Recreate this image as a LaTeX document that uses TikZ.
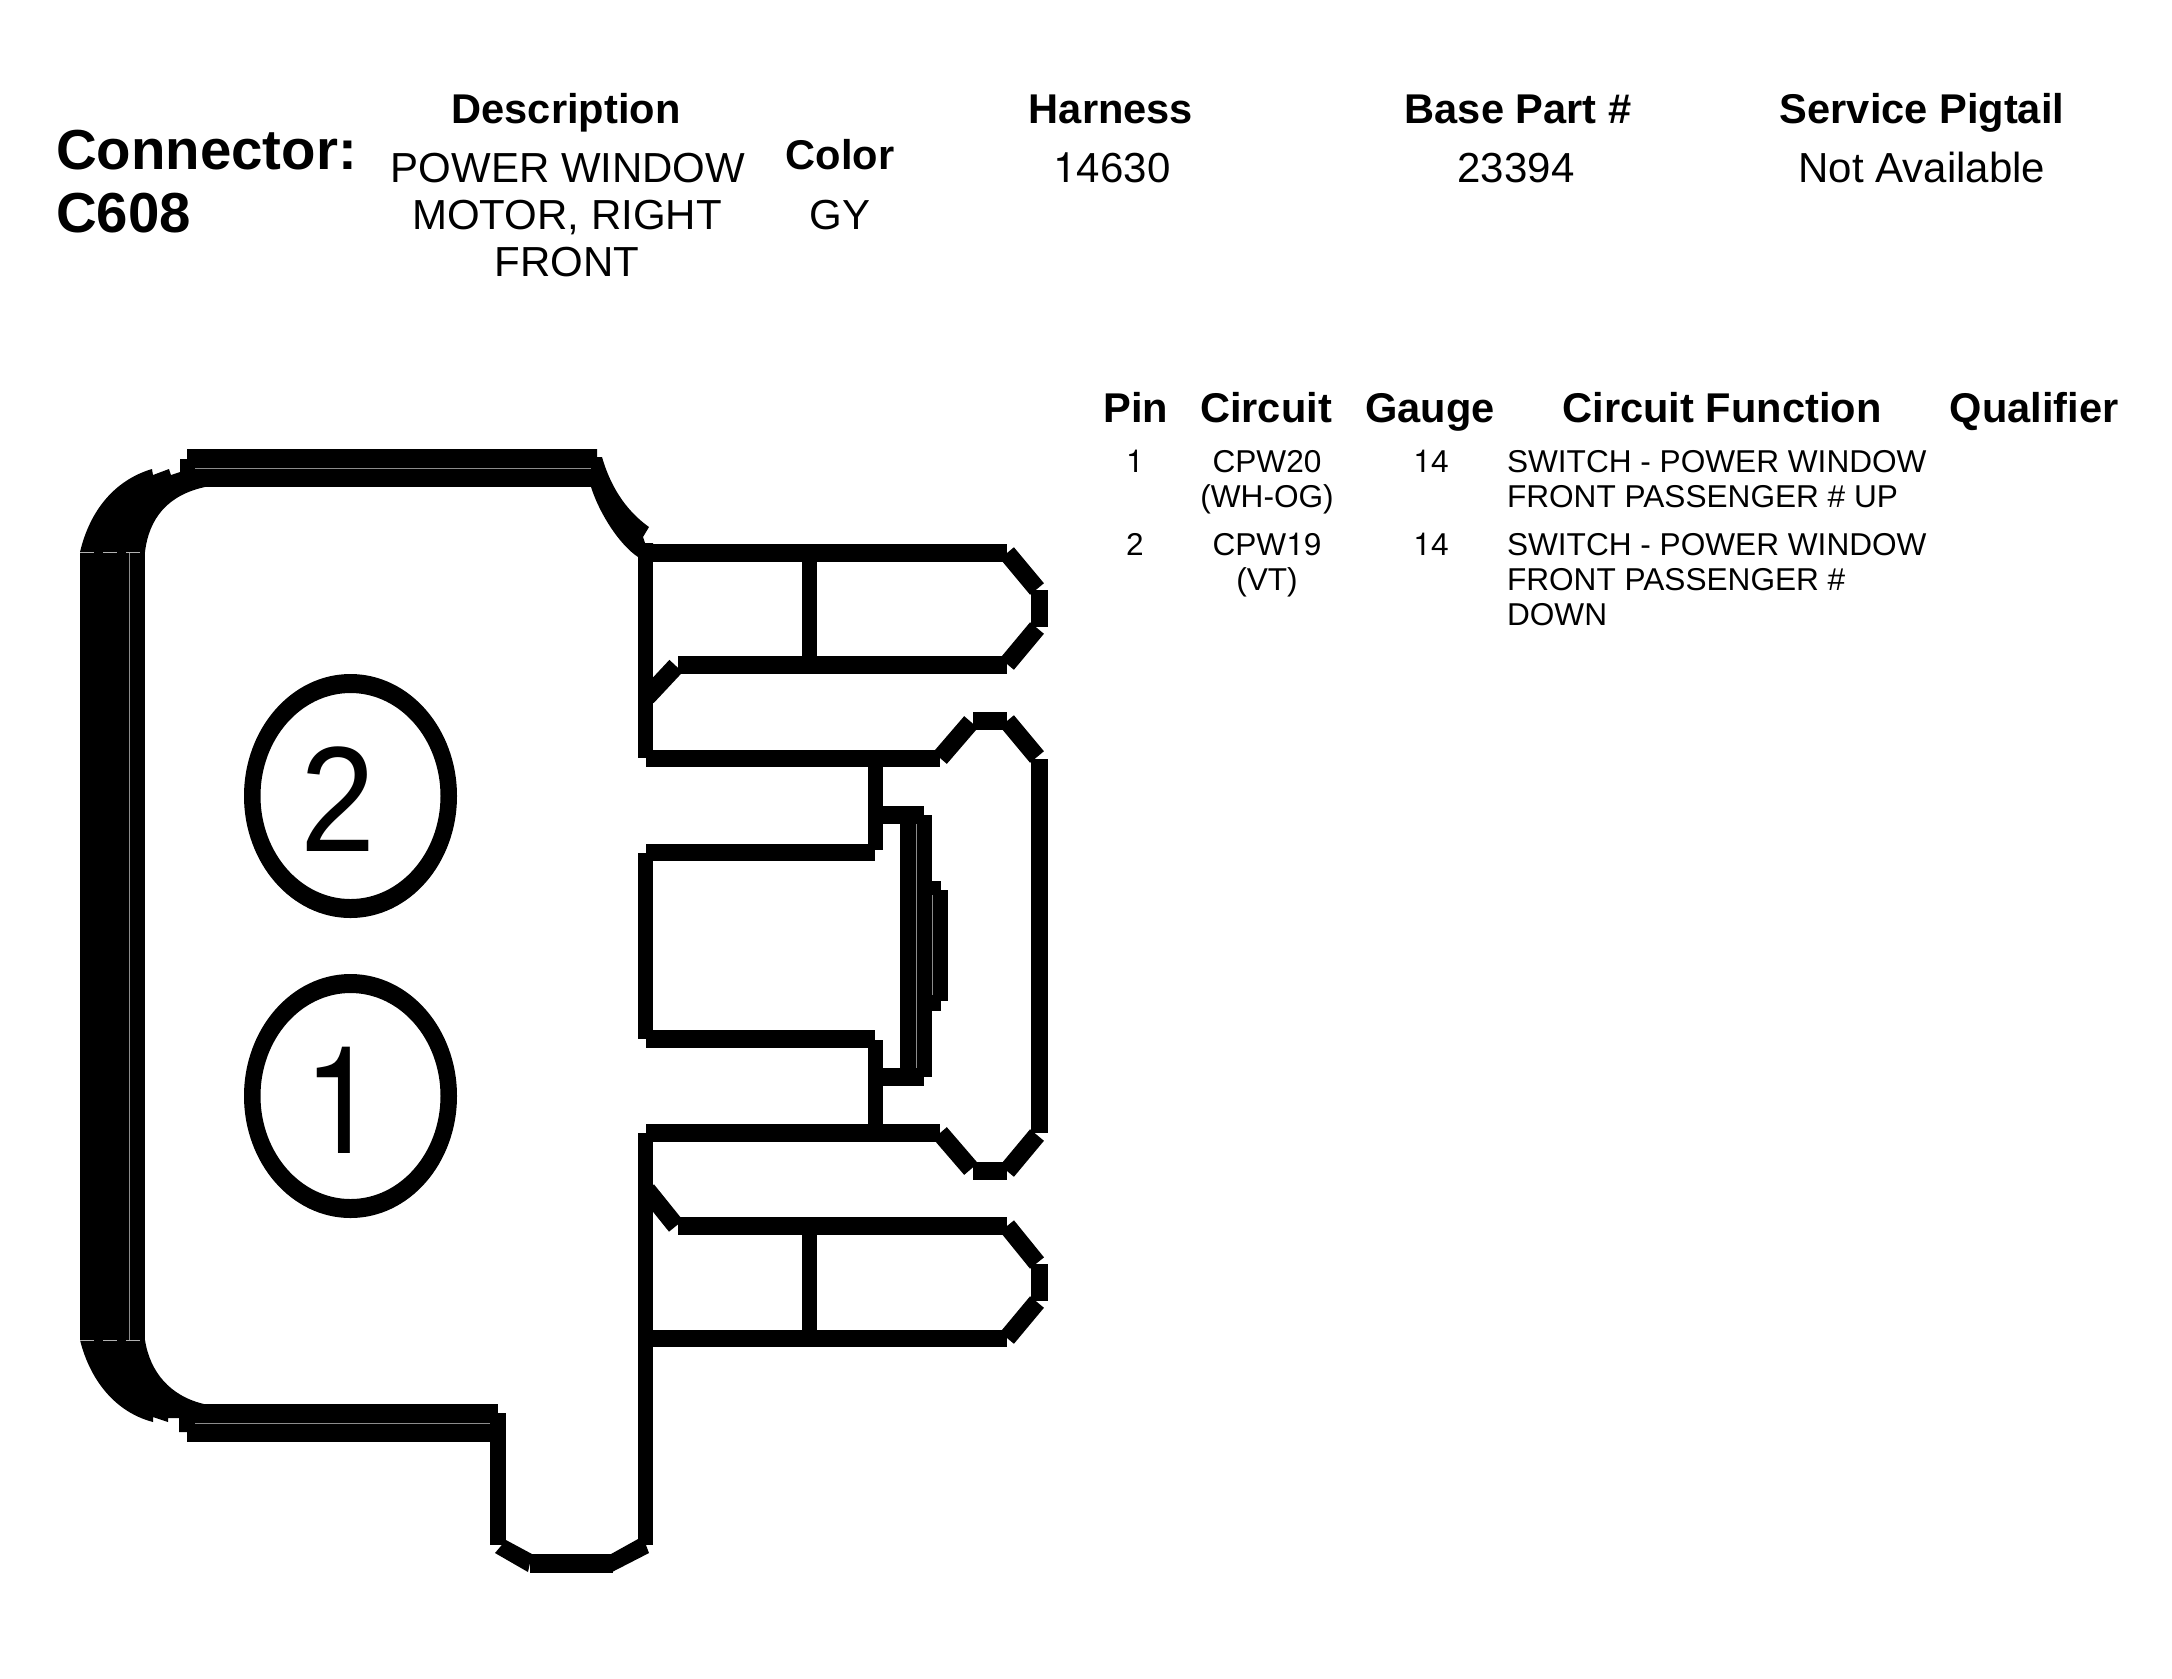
\documentclass[tikz,border=0pt]{standalone}
\usepackage{fontspec}
\setmainfont{Liberation Sans}
\newfontfamily\heros{TeX Gyre Heros}
\newcommand\one{{\heros 1}}
\newcommand\bx[4]{\fill (#1,#2) rectangle (#3,#4);}
\begin{document}
\begin{tikzpicture}[x=0.5pt,y=-0.5pt,
  txt/.style={anchor=base,inner sep=0pt,outer sep=0pt,text=black},
  connhead/.style={txt,font=\fontsize{28.2}{30}\selectfont\bfseries},
  head/.style={txt,font=\fontsize{20.8}{24}\selectfont\bfseries},
  val/.style={txt,font=\fontsize{21}{24}\selectfont},
  small/.style={txt,font=\fontsize{15.8}{18}\selectfont},
  bigdigit/.style={txt,font=\fontsize{75}{80}\selectfont,xscale=.9},
  diagseg/.style={line width=9pt,line cap=butt,black},
  hair/.style={line width=0.5pt,black!45},
]
\useasboundingbox (0,0) rectangle (2172,1678);
\fill[white] (0,0) rectangle (2172,1678);
% header
\node[connhead,anchor=base west] (conn) at (56,169) {Connector:};
\node[connhead,anchor=base west] (cnum) at (56,232) {C608};
\node[head] (hdesc) at (566,123) {Description};
\node[val] (d1) at (568,182) {POWER WINDOW};
\node[val] (d2) at (567,229) {MOTOR, RIGHT};
\node[val] (d3) at (567,276) {FRONT};
\node[head] (hcol) at (840,169) {Color};
\node[val] (vcol) at (840,229) {GY};
\node[head] (hhar) at (1111,123) {Harness};
\node[val] (vhar) at (1112,182) {\one4630};
\node[head] (hbas) at (1518,123) {Base Part \#};
\node[val] (vbas) at (1516,182) {23394};
\node[head] (hsvc) at (1922,123) {Service Pigtail};
\node[val] (vsvc) at (1922,182) {Not Available};
% table
\node[head] (tpin) at (1136,422) {Pin};
\node[head] (tcir) at (1266,422) {Circuit};
\node[head] (tgau) at (1430,422) {Gauge};
\node[head] (tfun) at (1722,422) {Circuit Function};
\node[head] (tqua) at (2034,422) {Qualifier};
\node[small] (p1) at (1135,472) {\one};
\node[small] (c1) at (1267,472) {CPW20};
\node[small] (c1b) at (1267,507) {(WH-OG)};
\node[small] (g1) at (1431,472) {\one4};
\node[small,anchor=base west] (f1) at (1507,472) {SWITCH - POWER WINDOW};
\node[small,anchor=base west] (f1b) at (1507,507) {FRONT PASSENGER \# UP};
\node[small] (p2) at (1135,555) {2};
\node[small] (c2) at (1267,555) {CPW\one9};
\node[small] (c2b) at (1267,590) {(VT)};
\node[small] (g2) at (1431,555) {\one4};
\node[small,anchor=base west] (f2) at (1507,555) {SWITCH - POWER WINDOW};
\node[small,anchor=base west] (f2b) at (1507,590) {FRONT PASSENGER \#};
\node[small,anchor=base west] (f2c) at (1507,625) {DOWN};
% cavities
\fill[even odd rule] (350.5,796) ellipse [x radius=106.5,y radius=122] (350.5,796) ellipse [x radius=90,y radius=103];
\fill[even odd rule] (350.5,1096) ellipse [x radius=106.5,y radius=122] (350.5,1096) ellipse [x radius=90,y radius=103];
\node[bigdigit] (n2) at (338,851) {2};
\node[bigdigit] (n1) at (341,1153) {{\heros 1}};
% body outline: thick bars and corners
\bx{187}{449}{597}{487}
\bx{80}{552}{145}{1340}
\fill (80,552) .. controls (90,510) and (115,480) .. (152,469) -- (153,475) -- (169,469) -- (171,475) -- (180,472) -- (180,459) -- (187,459) -- (187,487) -- (205,487) .. controls (168,495) and (149,518) .. (145,552) -- cycle;
\fill (80,1340) .. controls (90,1380) and (115,1412) .. (153,1422) -- (153,1417) -- (168,1422) -- (168,1418) -- (179,1418) -- (179,1432) -- (187,1432) -- (187,1404) -- (204,1404) .. controls (170,1396) and (150,1372) .. (145,1340) -- cycle;
\bx{187}{1404}{490}{1442}
\bx{490}{1404}{498}{1413}
\bx{490}{1413}{506}{1545}
\fill (506,1540) -- (532,1554) -- (528,1572) -- (495,1553) -- cycle;
\bx{530}{1554}{613}{1573}
\fill (611,1554) -- (638,1539) -- (646,1545) -- (649,1553) -- (612,1572) -- cycle;
\bx{638}{1133}{653}{1545}
\fill (597,449) -- (597,457) -- (602,457) .. controls (610,485) and (625,510) .. (649,527) -- (643,537) -- (645,543) -- (653,543) -- (653,560) -- (638,557) .. controls (620,545) and (600,515) .. (591,487) -- cycle;
% gray seams
\draw[hair] (129,552) -- (129,1340);
\draw[hair] (195,468) -- (591,468);
\draw[hair] (195,1423) -- (490,1423);
\draw[hair,white!70!black,dash pattern=on 7pt off 4.5pt] (80,552) -- (145,552);
\draw[hair,white!70!black,dash pattern=on 7pt off 4.5pt] (80,1340) -- (145,1340);
% upper wall and pin
\bx{638}{548}{653}{758}
\bx{645}{544}{1007}{562}
\bx{678}{656}{1007}{674}
\bx{802}{562}{817}{656}
\bx{1031}{590}{1048}{627}
\draw[diagseg] (1007,553) -- (1037,589);
\draw[diagseg] (1037,628) -- (1007,664);
\draw[diagseg] (647,697) -- (676,666);
% socket
\bx{646}{750}{940}{767}
\draw[diagseg] (940,758) -- (971,722);
\bx{973}{712}{1007}{730}
\draw[diagseg] (1007,721) -- (1037,757);
\bx{1031}{759}{1048}{1133}
\draw[diagseg] (1037,1135) -- (1007,1171);
\bx{973}{1162}{1007}{1180}
\draw[diagseg] (971,1169) -- (940,1133);
\bx{646}{1124}{940}{1142}
\bx{868}{767}{883}{850}
\bx{868}{1040}{883}{1124}
\bx{875}{806}{924}{824}
\bx{875}{1068}{924}{1086}
\bx{900}{806}{924}{1086}
\bx{924}{815}{932}{1077}
\bx{932}{881}{941}{1011}
\bx{941}{890}{948}{1001}
\draw[hair] (916,824) -- (916,1068);
\draw[hair] (932,895) -- (932,995);
\bx{638}{853}{653}{1039}
\bx{646}{844}{875}{861}
\bx{646}{1030}{875}{1048}
% lower pin
\bx{678}{1217}{1007}{1235}
\bx{645}{1330}{1007}{1347}
\bx{802}{1235}{817}{1330}
\bx{1031}{1264}{1048}{1301}
\draw[diagseg] (1007,1226) -- (1037,1263);
\draw[diagseg] (1037,1302) -- (1007,1338);
\draw[diagseg] (647,1190) -- (676,1226);
\end{tikzpicture}
\end{document}
